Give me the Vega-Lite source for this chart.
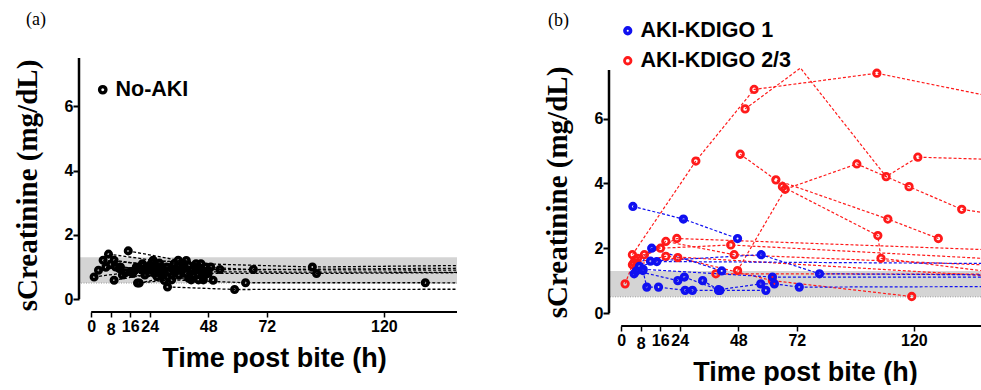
{
"$schema": "https://vega.github.io/schema/vega-lite/v6.json",
"background": "white",
"padding": {"left": 13, "top": 10, "right": 0, "bottom": 0},
"config": {
  "view": {"stroke": null},
  "axis": {"grid": false, "domain": false, "tickColor": "#000000", "labelColor": "#000000", "labelFont": "Liberation Sans", "labelFontWeight": "bold", "labelFontSize": 16, "titleColor": "#000000"},
  "legend": {"padding": 0, "labelFont": "Liberation Sans", "labelFontWeight": "bold", "labelFontSize": 21.5, "labelColor": "#000000", "symbolType": "circle", "symbolSize": 40, "symbolStrokeWidth": 3.4, "symbolFillColor": "#ffffff", "labelOffset": 2, "rowPadding": 7}
},
"data": {"values": [
{"panel":"a","group":"No-AKI","id":"a1","t":1.2,"v":0.69},{"panel":"a","group":"No-AKI","id":"a1","t":14,"v":0.82},{"panel":"a","group":"No-AKI","id":"a1","t":34,"v":0.85},{"panel":"a","group":"No-AKI","id":"a1","t":170,"v":0.83},
{"panel":"a","group":"No-AKI","id":"a2","t":3,"v":0.9},{"panel":"a","group":"No-AKI","id":"a2","t":12,"v":1.0},{"panel":"a","group":"No-AKI","id":"a2","t":29,"v":0.9},{"panel":"a","group":"No-AKI","id":"a2","t":52.8,"v":0.92},{"panel":"a","group":"No-AKI","id":"a2","t":170,"v":0.9},
{"panel":"a","group":"No-AKI","id":"a3","t":4.9,"v":1.21},{"panel":"a","group":"No-AKI","id":"a3","t":21,"v":1.1},{"panel":"a","group":"No-AKI","id":"a3","t":44,"v":1.0},{"panel":"a","group":"No-AKI","id":"a3","t":66.5,"v":0.92},{"panel":"a","group":"No-AKI","id":"a3","t":170,"v":0.97},
{"panel":"a","group":"No-AKI","id":"a4","t":7.1,"v":1.4},{"panel":"a","group":"No-AKI","id":"a4","t":25.4,"v":1.21},{"panel":"a","group":"No-AKI","id":"a4","t":45,"v":1.1},{"panel":"a","group":"No-AKI","id":"a4","t":90.7,"v":1.0},{"panel":"a","group":"No-AKI","id":"a4","t":170,"v":1.06},
{"panel":"a","group":"No-AKI","id":"a5","t":15.2,"v":1.5},{"panel":"a","group":"No-AKI","id":"a5","t":35.7,"v":1.21},{"panel":"a","group":"No-AKI","id":"a5","t":47,"v":1.0},
{"panel":"a","group":"No-AKI","id":"a6","t":6,"v":0.99},{"panel":"a","group":"No-AKI","id":"a6","t":18,"v":0.9},{"panel":"a","group":"No-AKI","id":"a6","t":39,"v":0.8},{"panel":"a","group":"No-AKI","id":"a6","t":92.4,"v":0.8},{"panel":"a","group":"No-AKI","id":"a6","t":170,"v":0.83},
{"panel":"a","group":"No-AKI","id":"a7","t":19,"v":0.5},{"panel":"a","group":"No-AKI","id":"a7","t":33,"v":0.6},{"panel":"a","group":"No-AKI","id":"a7","t":63.3,"v":0.51},{"panel":"a","group":"No-AKI","id":"a7","t":137,"v":0.51},{"panel":"a","group":"No-AKI","id":"a7","t":170,"v":0.5},
{"panel":"a","group":"No-AKI","id":"a8","t":31.3,"v":0.38},{"panel":"a","group":"No-AKI","id":"a8","t":58.8,"v":0.3},{"panel":"a","group":"No-AKI","id":"a8","t":170,"v":0.31},
{"panel":"a","group":"No-AKI","id":"a9","t":9.4,"v":0.59},{"panel":"a","group":"No-AKI","id":"a9","t":22,"v":0.75},{"panel":"a","group":"No-AKI","id":"a9","t":41,"v":0.6},
{"panel":"a","group":"No-AKI","id":"a10","t":9.4,"v":1.21},{"panel":"a","group":"No-AKI","id":"a10","t":24,"v":1.05},{"panel":"a","group":"No-AKI","id":"a10","t":38,"v":1.1},{"panel":"a","group":"No-AKI","id":"a10","t":50,"v":0.59},
{"panel":"a","group":"No-AKI","id":"a11","t":8,"v":1.08},{"panel":"a","group":"No-AKI","id":"a11","t":17,"v":0.8},{"panel":"a","group":"No-AKI","id":"a11","t":30,"v":0.8},
{"panel":"a","group":"No-AKI","id":"a12","t":11.5,"v":0.95},{"panel":"a","group":"No-AKI","id":"a12","t":26,"v":0.85},{"panel":"a","group":"No-AKI","id":"a12","t":43,"v":0.9},
{"panel":"a","group":"No-AKI","id":"a13","t":12.8,"v":0.75},{"panel":"a","group":"No-AKI","id":"a13","t":27,"v":0.7},{"panel":"a","group":"No-AKI","id":"a13","t":46,"v":0.7},
{"panel":"a","group":"No-AKI","id":"a14","t":19.7,"v":0.5},{"panel":"a","group":"No-AKI","id":"a14","t":36,"v":0.75},{"panel":"a","group":"No-AKI","id":"a14","t":48,"v":0.8},
{"panel":"a","group":"No-AKI","id":"a15","t":10,"v":1.0},{"panel":"a","group":"No-AKI","id":"a15","t":23,"v":0.95},{"panel":"a","group":"No-AKI","id":"a15","t":40,"v":1.05},
{"panel":"a","group":"No-AKI","id":"a16","t":16,"v":0.85},{"panel":"a","group":"No-AKI","id":"a16","t":28,"v":1.0},{"panel":"a","group":"No-AKI","id":"a16","t":45,"v":0.95},
{"panel":"a","group":"No-AKI","id":"a17","t":21,"v":1.05},{"panel":"a","group":"No-AKI","id":"a17","t":34,"v":1.1},{"panel":"a","group":"No-AKI","id":"a17","t":48,"v":0.9},
{"panel":"a","group":"No-AKI","id":"a18","t":23,"v":1.0},{"panel":"a","group":"No-AKI","id":"a18","t":37,"v":0.95},{"panel":"a","group":"No-AKI","id":"a18","t":44,"v":0.6},
{"panel":"a","group":"No-AKI","id":"a19","t":24,"v":0.9},{"panel":"a","group":"No-AKI","id":"a19","t":30,"v":0.58},{"panel":"a","group":"No-AKI","id":"a19","t":42,"v":0.7},
{"panel":"a","group":"No-AKI","id":"a20","t":25,"v":1.15},{"panel":"a","group":"No-AKI","id":"a20","t":39,"v":1.2},{"panel":"a","group":"No-AKI","id":"a20","t":49,"v":1.0},
{"panel":"a","group":"No-AKI","id":"a21","t":26,"v":0.8},{"panel":"a","group":"No-AKI","id":"a21","t":32,"v":0.85},{"panel":"a","group":"No-AKI","id":"a21","t":46,"v":0.6},
{"panel":"a","group":"No-AKI","id":"a22","t":27,"v":1.0},{"panel":"a","group":"No-AKI","id":"a22","t":40,"v":0.65},
{"panel":"a","group":"No-AKI","id":"a23","t":20,"v":0.95},{"panel":"a","group":"No-AKI","id":"a23","t":35,"v":0.9},{"panel":"a","group":"No-AKI","id":"a23","t":47,"v":0.85},
{"panel":"a","group":"No-AKI","id":"a24","t":22,"v":0.9},{"panel":"a","group":"No-AKI","id":"a24","t":31,"v":1.0},{"panel":"a","group":"No-AKI","id":"a24","t":43,"v":1.1},
{"panel":"a","group":"No-AKI","id":"a25","t":28,"v":1.12},{"panel":"a","group":"No-AKI","id":"a25","t":38,"v":0.98},{"panel":"a","group":"No-AKI","id":"a25","t":45.5,"v":0.75},
{"panel":"a","group":"No-AKI","id":"a26","t":18.5,"v":1.0},{"panel":"a","group":"No-AKI","id":"a26","t":29,"v":0.72},{"panel":"a","group":"No-AKI","id":"a26","t":41.5,"v":0.9},

{"panel":"b","group":"AKI-KDIGO 2/3","id":"rA","t":4.6,"v":1.8},{"panel":"b","group":"AKI-KDIGO 2/3","id":"rA","t":30.6,"v":4.69},{"panel":"b","group":"AKI-KDIGO 2/3","id":"rA","t":54.5,"v":6.9},{"panel":"b","group":"AKI-KDIGO 2/3","id":"rA","t":104.8,"v":7.4},{"panel":"b","group":"AKI-KDIGO 2/3","id":"rA","t":170,"v":6.4},
{"panel":"b","group":"AKI-KDIGO 2/3","id":"rE","t":50.8,"v":6.3},{"panel":"b","group":"AKI-KDIGO 2/3","id":"rE","t":73.5,"v":7.56},{"panel":"b","group":"AKI-KDIGO 2/3","id":"rE","t":108.6,"v":4.21},{"panel":"b","group":"AKI-KDIGO 2/3","id":"rE","t":121.6,"v":4.81},{"panel":"b","group":"AKI-KDIGO 2/3","id":"rE","t":170,"v":4.7},
{"panel":"b","group":"AKI-KDIGO 2/3","id":"rB","t":47.7,"v":1.31},{"panel":"b","group":"AKI-KDIGO 2/3","id":"rB","t":67.2,"v":3.82},{"panel":"b","group":"AKI-KDIGO 2/3","id":"rB","t":96.6,"v":4.6},{"panel":"b","group":"AKI-KDIGO 2/3","id":"rB","t":118,"v":3.9},{"panel":"b","group":"AKI-KDIGO 2/3","id":"rB","t":139.6,"v":3.2},{"panel":"b","group":"AKI-KDIGO 2/3","id":"rB","t":170,"v":2.85},
{"panel":"b","group":"AKI-KDIGO 2/3","id":"rC","t":48.8,"v":4.9},{"panel":"b","group":"AKI-KDIGO 2/3","id":"rC","t":63.4,"v":4.11},{"panel":"b","group":"AKI-KDIGO 2/3","id":"rC","t":109.3,"v":2.9},{"panel":"b","group":"AKI-KDIGO 2/3","id":"rC","t":130,"v":2.3},
{"panel":"b","group":"AKI-KDIGO 2/3","id":"rD","t":66.1,"v":3.9},{"panel":"b","group":"AKI-KDIGO 2/3","id":"rD","t":105.2,"v":2.39},{"panel":"b","group":"AKI-KDIGO 2/3","id":"rD","t":106.5,"v":1.69},{"panel":"b","group":"AKI-KDIGO 2/3","id":"rD","t":170,"v":1.1},
{"panel":"b","group":"AKI-KDIGO 2/3","id":"r2","t":1.6,"v":0.9},{"panel":"b","group":"AKI-KDIGO 2/3","id":"r2","t":4.6,"v":1.49},{"panel":"b","group":"AKI-KDIGO 2/3","id":"r2","t":23.2,"v":1.71},{"panel":"b","group":"AKI-KDIGO 2/3","id":"r2","t":62,"v":1.0},{"panel":"b","group":"AKI-KDIGO 2/3","id":"r2","t":119.1,"v":0.51},
{"panel":"b","group":"AKI-KDIGO 2/3","id":"r3","t":5.7,"v":1.64},{"panel":"b","group":"AKI-KDIGO 2/3","id":"r3","t":16.1,"v":2.0},{"panel":"b","group":"AKI-KDIGO 2/3","id":"r3","t":44.9,"v":2.1},{"panel":"b","group":"AKI-KDIGO 2/3","id":"r3","t":170,"v":1.6},
{"panel":"b","group":"AKI-KDIGO 2/3","id":"r4","t":6.7,"v":1.69},{"panel":"b","group":"AKI-KDIGO 2/3","id":"r4","t":18.3,"v":2.21},{"panel":"b","group":"AKI-KDIGO 2/3","id":"r4","t":46.3,"v":1.8},{"panel":"b","group":"AKI-KDIGO 2/3","id":"r4","t":170,"v":1.42},
{"panel":"b","group":"AKI-KDIGO 2/3","id":"r5","t":9.5,"v":1.8},{"panel":"b","group":"AKI-KDIGO 2/3","id":"r5","t":22.8,"v":2.3},{"panel":"b","group":"AKI-KDIGO 2/3","id":"r5","t":170,"v":1.9},
{"panel":"b","group":"AKI-KDIGO 2/3","id":"r6","t":5.2,"v":1.55},{"panel":"b","group":"AKI-KDIGO 2/3","id":"r6","t":18.3,"v":1.75},{"panel":"b","group":"AKI-KDIGO 2/3","id":"r6","t":170,"v":1.06},
{"panel":"b","group":"AKI-KDIGO 2/3","id":"r7","t":38.8,"v":1.21},{"panel":"b","group":"AKI-KDIGO 2/3","id":"r7","t":170,"v":1.2},

{"panel":"b","group":"AKI-KDIGO 1","id":"b1","t":4.8,"v":3.29},{"panel":"b","group":"AKI-KDIGO 1","id":"b1","t":25.5,"v":2.9},{"panel":"b","group":"AKI-KDIGO 1","id":"b1","t":47.7,"v":2.3},
{"panel":"b","group":"AKI-KDIGO 1","id":"b2","t":5.3,"v":1.21},{"panel":"b","group":"AKI-KDIGO 1","id":"b2","t":12.5,"v":2.0},{"panel":"b","group":"AKI-KDIGO 1","id":"b2","t":41.2,"v":1.3},
{"panel":"b","group":"AKI-KDIGO 1","id":"b3","t":7.5,"v":1.44},{"panel":"b","group":"AKI-KDIGO 1","id":"b3","t":14.6,"v":1.59},{"panel":"b","group":"AKI-KDIGO 1","id":"b3","t":170,"v":1.52},
{"panel":"b","group":"AKI-KDIGO 1","id":"b4","t":8.9,"v":1.31},{"panel":"b","group":"AKI-KDIGO 1","id":"b4","t":10.5,"v":0.8},{"panel":"b","group":"AKI-KDIGO 1","id":"b4","t":15.3,"v":0.8},{"panel":"b","group":"AKI-KDIGO 1","id":"b4","t":26.2,"v":0.7},{"panel":"b","group":"AKI-KDIGO 1","id":"b4","t":29.2,"v":0.7},{"panel":"b","group":"AKI-KDIGO 1","id":"b4","t":39.9,"v":0.7},
{"panel":"b","group":"AKI-KDIGO 1","id":"b5","t":6.2,"v":1.3},{"panel":"b","group":"AKI-KDIGO 1","id":"b5","t":23.2,"v":1.0},{"panel":"b","group":"AKI-KDIGO 1","id":"b5","t":25.9,"v":1.11},{"panel":"b","group":"AKI-KDIGO 1","id":"b5","t":40.5,"v":0.7},{"panel":"b","group":"AKI-KDIGO 1","id":"b5","t":59.3,"v":0.7},
{"panel":"b","group":"AKI-KDIGO 1","id":"b6","t":33.4,"v":1.0},{"panel":"b","group":"AKI-KDIGO 1","id":"b6","t":39.9,"v":0.72},{"panel":"b","group":"AKI-KDIGO 1","id":"b6","t":57.2,"v":0.9},{"panel":"b","group":"AKI-KDIGO 1","id":"b6","t":62.8,"v":0.9},{"panel":"b","group":"AKI-KDIGO 1","id":"b6","t":73,"v":0.8},{"panel":"b","group":"AKI-KDIGO 1","id":"b6","t":170,"v":0.82},
{"panel":"b","group":"AKI-KDIGO 1","id":"b7","t":12,"v":1.6},{"panel":"b","group":"AKI-KDIGO 1","id":"b7","t":57.4,"v":1.8},{"panel":"b","group":"AKI-KDIGO 1","id":"b7","t":81.3,"v":1.21},{"panel":"b","group":"AKI-KDIGO 1","id":"b7","t":170,"v":1.17},
{"panel":"b","group":"AKI-KDIGO 1","id":"b8","t":9,"v":1.35},{"panel":"b","group":"AKI-KDIGO 1","id":"b8","t":62,"v":1.11},{"panel":"b","group":"AKI-KDIGO 1","id":"b8","t":170,"v":1.11}
]},
"spacing": 85,
"resolve": {"scale": {"color": "independent", "size": "independent", "strokeWidth": "independent"}, "legend": {"color": "independent"}},
"hconcat": [
{
 "width": 378, "height": 254,
 "title": {"text": "(a)", "anchor": "start", "frame": "group", "font": "Liberation Serif", "fontSize": 18, "fontWeight": "normal", "color": "#000000", "dx": -53, "offset": 28},
 "layer": [
  {"data": {"values": [{}]}, "mark": {"type": "rect", "color": "#d4d4d4"}, "encoding": {"y": {"datum": 0.5, "type": "quantitative"}, "y2": {"datum": 1.3}}},
  {"data": {"values": [{}]}, "mark": {"type": "rule", "color": "#9a9a9a", "strokeDash": [1, 1.5], "strokeWidth": 1}, "encoding": {"y": {"datum": 0.5, "type": "quantitative"}}},
  {"data": {"values": [{}]}, "mark": {"type": "rule", "color": "#000000", "strokeWidth": 2.5}, "encoding": {"x": {"datum": -5, "type": "quantitative"}, "y": {"datum": 0, "type": "quantitative"}, "y2": {"datum": 7.5}}},
  {"data": {"values": [{}]}, "mark": {"type": "rule", "color": "#000000", "strokeWidth": 2}, "encoding": {"y": {"datum": -0.4, "type": "quantitative"}, "x": {"datum": 0, "type": "quantitative"}, "x2": {"datum": 150}}},
  {"transform": [{"filter": "datum.panel == 'a'"}],
   "mark": {"type": "line", "strokeDash": [3, 2], "strokeWidth": 1.3, "clip": true},
   "encoding": {
    "x": {"field": "t", "type": "quantitative", "scale": {"domain": [-5, 150], "nice": false, "zero": false},
          "axis": {"values": [0, 8, 16, 24, 48, 72, 120], "labelOverlap": false, "tickSize": 5, "tickWidth": 1.5, "labelPadding": {"condition": {"test": "datum.value == 8", "value": 4}, "value": 1}, "title": "Time post bite (h)", "titleFont": "Liberation Sans", "titleFontWeight": "bold", "titleFontSize": 27, "titlePadding": 8, "titleX": 195}},
    "y": {"field": "v", "type": "quantitative", "scale": {"domain": [-0.4, 7.5], "nice": false, "zero": false},
          "axis": {"values": [0, 2, 4, 6], "tickSize": 6, "tickWidth": 2, "labelPadding": 0, "title": "sCreatinine (mg/dL)", "titleFont": "Liberation Serif", "titleFontWeight": "bold", "titleFontSize": 29, "titlePadding": 22}},
    "detail": {"field": "id"},
    "order": {"field": "t", "type": "quantitative"},
    "color": {"field": "group", "type": "nominal", "scale": {"domain": ["No-AKI"], "range": ["#000000"]},
              "legend": {"title": null, "orient": "none", "legendX": 13, "legendY": 21}}
   }},
  {"transform": [{"filter": "datum.panel == 'a' && datum.t <= 150 && datum.v <= 7.5"}],
   "mark": {"type": "point", "filled": false, "size": 30, "strokeWidth": 3.6, "opacity": 1, "clip": true},
   "encoding": {
    "x": {"field": "t", "type": "quantitative"},
    "y": {"field": "v", "type": "quantitative"},
    "color": {"field": "group", "type": "nominal"}
   }}
 ]
},
{
 "width": 372, "height": 268,
 "title": {"text": "(b)", "anchor": "start", "frame": "group", "font": "Liberation Serif", "fontSize": 18, "fontWeight": "normal", "color": "#000000", "dx": -61, "offset": 0, "dy": 10},
 "layer": [
  {"data": {"values": [{}]}, "mark": {"type": "rect", "color": "#d4d4d4"}, "encoding": {"y": {"datum": 0.5, "type": "quantitative"}, "y2": {"datum": 1.3}}},
  {"data": {"values": [{}]}, "mark": {"type": "rule", "color": "#9a9a9a", "strokeDash": [1, 1.5], "strokeWidth": 1}, "encoding": {"y": {"datum": 0.5, "type": "quantitative"}}},
  {"data": {"values": [{}]}, "mark": {"type": "rule", "color": "#000000", "strokeWidth": 2.5}, "encoding": {"x": {"datum": -5, "type": "quantitative"}, "y": {"datum": 0, "type": "quantitative"}, "y2": {"datum": 7.5}}},
  {"data": {"values": [{}]}, "mark": {"type": "rule", "color": "#000000", "strokeWidth": 2}, "encoding": {"y": {"datum": -0.4, "type": "quantitative"}, "x": {"datum": 0, "type": "quantitative"}, "x2": {"datum": 147.5}}},
  {"transform": [{"filter": "datum.panel == 'b'"}],
   "mark": {"type": "line", "strokeDash": [3, 2], "strokeWidth": 1.2, "clip": true},
   "encoding": {
    "x": {"field": "t", "type": "quantitative", "scale": {"domain": [-5, 147.5], "nice": false, "zero": false},
          "axis": {"values": [0, 8, 16, 24, 48, 72, 120], "labelOverlap": false, "tickSize": 5, "tickWidth": 1.5, "labelPadding": {"condition": {"test": "datum.value == 8", "value": 4}, "value": 1}, "title": "Time post bite (h)", "titleFont": "Liberation Sans", "titleFontWeight": "bold", "titleFontSize": 27, "titlePadding": 8, "titleX": 196}},
    "y": {"field": "v", "type": "quantitative", "scale": {"domain": [-0.4, 7.87], "nice": false, "zero": false},
          "axis": {"values": [0, 2, 4, 6], "tickSize": 6, "tickWidth": 2, "labelPadding": 0, "title": "sCreatinine (mg/dL)", "titleFont": "Liberation Serif", "titleFontWeight": "bold", "titleFontSize": 29, "titlePadding": 22}},
    "detail": {"field": "id"},
    "order": {"field": "t", "type": "quantitative"},
    "color": {"field": "group", "type": "nominal", "scale": {"domain": ["AKI-KDIGO 1", "AKI-KDIGO 2/3"], "range": ["#1010f0", "#ff1a1a"]},
              "legend": {"title": null, "orient": "none", "legendX": 8, "legendY": -38}}
   }},
  {"transform": [{"filter": "datum.panel == 'b' && datum.t <= 150 && datum.v <= 7.5"}],
   "mark": {"type": "point", "filled": false, "opacity": 1, "clip": true},
   "encoding": {
    "x": {"field": "t", "type": "quantitative"},
    "y": {"field": "v", "type": "quantitative"},
    "color": {"field": "group", "type": "nominal"},
    "size": {"field": "group", "type": "nominal", "scale": {"domain": ["AKI-KDIGO 1", "AKI-KDIGO 2/3"], "range": [32, 42]}, "legend": null},
    "strokeWidth": {"field": "group", "type": "nominal", "scale": {"domain": ["AKI-KDIGO 1", "AKI-KDIGO 2/3"], "range": [3.6, 2.8]}, "legend": null}
   }}
 ]
}
]
}
